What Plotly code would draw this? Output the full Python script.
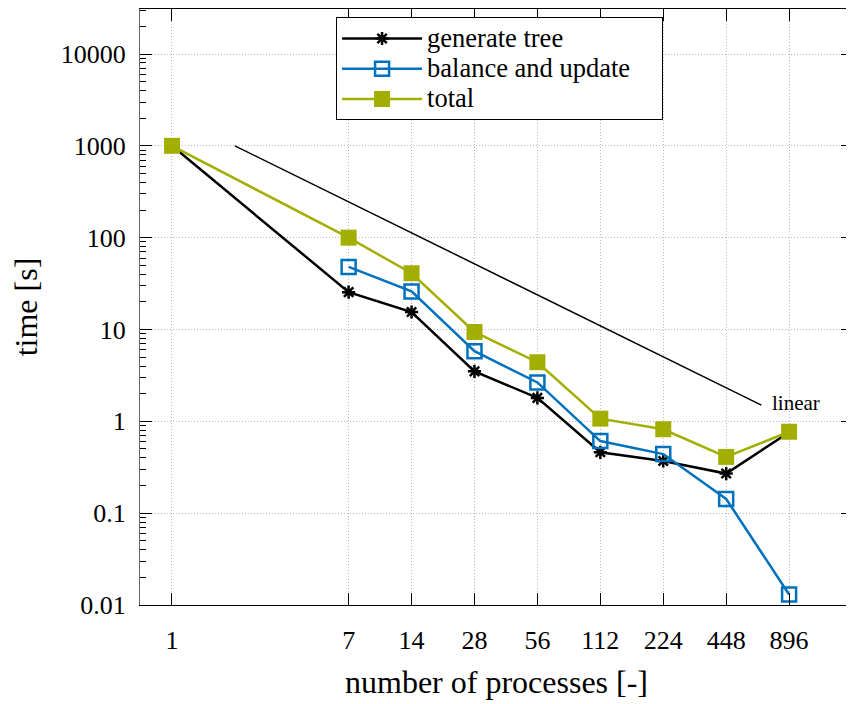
import plotly.graph_objects as go

procs = [1, 7, 14, 28, 56, 112, 224, 448, 896]
tick_labels = ["1", "7", "14", "28", "56", "112", "224", "448", "896"]
generate_tree = [1000, 25.5, 15.5, 3.5, 1.8, 0.46, 0.37, 0.27, 0.76]
balance_update = [None, 48, 26, 5.8, 2.65, 0.61, 0.44, 0.143, 0.013]
total = [1000, 100, 41, 9.4, 4.4, 1.07, 0.82, 0.41, 0.77]
linear_x = [2, 660]
linear_y = [1000, 1.5]
y_ticks = [0.01, 0.1, 1, 10, 100, 1000, 10000]
y_tick_labels = ["0.01", "0.1", "1", "10", "100", "1000", "10000"]

minor_y = [m * 10.0 ** e for e in range(-2, 5) for m in range(2, 10)]

FONT = "Liberation Serif"
black = "#000000"
blue = "#0072BD"
olive = "#A3AF00"


def leg(name, pad=0):
    return '<span style="font-size:26.5px">' + name + "&nbsp;" * pad + '</span>'


fig = go.Figure()
fig.add_trace(go.Scatter(x=linear_x, y=linear_y, mode="lines",
                         line=dict(color="black", width=1.5), showlegend=False))
fig.add_trace(go.Scatter(x=procs, y=generate_tree, mode="lines+markers", name=leg("generate tree"),
                         line=dict(color=black, width=2.5),
                         marker=dict(symbol="asterisk-open", size=11, color=black,
                                     line=dict(color=black, width=2.5))))
fig.add_trace(go.Scatter(x=procs, y=balance_update, mode="lines+markers", name=leg("balance and update", 4),
                         line=dict(color=blue, width=2.5),
                         marker=dict(symbol="square-open", size=14, color=blue,
                                     line=dict(color=blue, width=2.5))))
fig.add_trace(go.Scatter(x=procs, y=total, mode="lines+markers", name=leg("total"),
                         line=dict(color=olive, width=2.5),
                         marker=dict(symbol="square", size=16, color=olive)))

fig.add_annotation(x=2.862, y=0.2, xref="x", yref="y", text="linear", showarrow=False,
                   xanchor="left", yanchor="middle", font=dict(family=FONT, size=21, color="black"))

fig.update_layout(
    width=846, height=696,
    margin=dict(l=132, r=1, t=1, b=99),
    paper_bgcolor="white", plot_bgcolor="white",
    font=dict(family=FONT, size=26, color="black"),
    legend=dict(x=0.275, y=0.986, xanchor="left", yanchor="top",
                bgcolor="white", bordercolor="black", borderwidth=1,
                font=dict(family=FONT, size=21), tracegroupgap=0, itemwidth=80),
)
fig.update_xaxes(type="log", range=[-0.153, 3.258], tickvals=procs, ticktext=tick_labels,
                 ticks="inside", ticklen=12, tickcolor="black", showline=True, linecolor="black",
                 mirror="ticks", showgrid=True, gridcolor="#b8b8b8", griddash="1px,2px", gridwidth=1,
                 ticklabelstandoff=12, zeroline=False,
                 title=dict(text="number of processes [-]", font=dict(size=32), standoff=16))
fig.update_yaxes(type="log", range=[-2, 4.49], tickvals=y_ticks, ticktext=y_tick_labels,
                 ticks="inside", ticklen=12, tickcolor="black", showline=True, linecolor="#666666",
                 mirror="ticks", showgrid=True, gridcolor="#b8b8b8", griddash="1px,2px", gridwidth=1,
                 minor=dict(tickvals=minor_y, ticks="inside", ticklen=6, tickcolor="black", showgrid=False),
                 ticklabelstandoff=8, zeroline=False,
                 title=dict(text="time [s]", font=dict(size=32), standoff=14))

fig.write_html("out.html")
